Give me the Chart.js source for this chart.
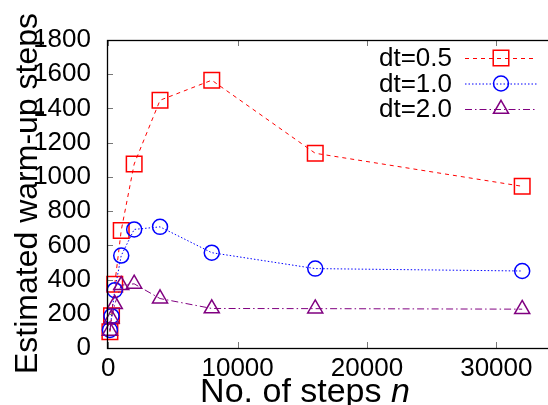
<!DOCTYPE html>
<html>
<head>
<meta charset="utf-8">
<script src="https://cdn.jsdelivr.net/npm/chart.js@4"></script>
<style>
html,body{margin:0;padding:0;overflow:hidden;background:#fff;}
#wrap{width:562px;height:405px;}
</style>
</head>
<body>
<div id="wrap"><canvas id="c" width="562" height="405" style="width:562px;height:405px"></canvas></div>
<script>
// ---- data ----
const steps = [125, 250, 500, 1000, 2000, 4000, 8000, 16000, 32000];
const dt05 = [95, 188, 373, 687, 1075, 1448, 1565, 1138, 945];
const dt10 = [105, 186, 338, 540, 693, 708, 557, 464, 450];
const dt20 = [100, 172, 256, 367, 375, 289, 231, 230, 227];
const seriesLabels = ['dt=0.5', 'dt=1.0', 'dt=2.0'];
const xTicks = [0, 10000, 20000, 30000];
const yTicks = [0, 200, 400, 600, 800, 1000, 1200, 1400, 1600, 1800];
const xTitle = 'No. of steps ';
const xTitleItalic = 'n';
const yTitle = 'Estimated warm-up steps';

const FONT = '"Liberation Sans", Arial, Helvetica, sans-serif';

function pts(ys){ return steps.map((x,i)=>({x:x, y:ys[i]})); }

const styles = [
  {color:'#ff0000', dash:[4,4], shape:'rect', r:11, order:2},
  {color:'#0000ff', dash:[1.5,2], shape:'circle', r:7.5, order:1},
  {color:'#800080', dash:[7,3,1.5,3], shape:'triangle', r:8.7, order:0}
];
const allSeries = [dt05, dt10, dt20];

const datasets = allSeries.map((s,i)=>({
  label: seriesLabels[i],
  data: pts(s),
  borderColor: styles[i].color,
  backgroundColor: 'rgba(0,0,0,0)',
  borderWidth: 1,
  borderDash: styles[i].dash,
  pointStyle: styles[i].shape,
  pointRadius: styles[i].r,
  pointBorderWidth: 1.5,
  pointBorderColor: styles[i].color,
  pointBackgroundColor: 'rgba(0,0,0,0)',
  tension: 0,
  clip: false,
  order: styles[i].order
}));

function drawMarker(ctx, shape, r, x, y){
  ctx.beginPath();
  if(shape==='rect'){
    const s = Math.SQRT1_2*r;
    ctx.rect(x-s, y-s, 2*s, 2*s);
  } else if(shape==='circle'){
    ctx.arc(x, y, r, 0, Math.PI*2);
  } else {
    const a = 2*Math.PI/3;
    ctx.moveTo(x, y-r);
    ctx.lineTo(x+Math.sin(a)*r, y-Math.cos(a)*r);
    ctx.lineTo(x+Math.sin(2*a)*r, y-Math.cos(2*a)*r);
    ctx.closePath();
  }
  ctx.stroke();
}

const framePlugin = {
  id:'frame',
  afterDraw(chart){
    const ctx = chart.ctx, a = chart.chartArea;
    const xs = chart.scales.x, ys = chart.scales.y;
    ctx.save();
    // ticks (inward)
    ctx.strokeStyle = '#777';
    ctx.lineWidth = 1;
    ctx.setLineDash([]);
    ctx.beginPath();
    xTicks.forEach(v=>{
      const p = Math.round(xs.getPixelForValue(v))+0.5;
      ctx.moveTo(p, a.bottom); ctx.lineTo(p, a.bottom-6);
      ctx.moveTo(p, a.top); ctx.lineTo(p, a.top+6);
    });
    yTicks.forEach(v=>{
      const p = Math.round(ys.getPixelForValue(v))+0.5;
      ctx.moveTo(a.left, p); ctx.lineTo(a.left+6, p);
      ctx.moveTo(a.right, p); ctx.lineTo(a.right-6, p);
    });
    ctx.stroke();
    // frame
    ctx.strokeStyle = '#000';
    ctx.lineWidth = 1.3;
    ctx.strokeRect(Math.round(a.left)+0.5, Math.round(a.top)+0.5, a.right-a.left, a.bottom-a.top);
    // legend
    ctx.font = '26px ' + FONT;
    ctx.textAlign = 'right';
    ctx.textBaseline = 'middle';
    chart.data.datasets.forEach((d,i)=>{
      const y = 58 + i*25.5;
      ctx.fillStyle = '#000';
      ctx.fillText(d.label, 452, y+1);
      ctx.strokeStyle = d.borderColor;
      ctx.lineWidth = 1;
      ctx.setLineDash(d.borderDash);
      ctx.beginPath();
      ctx.moveTo(465, y+0.5); ctx.lineTo(537, y+0.5);
      ctx.stroke();
      ctx.setLineDash([]);
      ctx.lineWidth = 1.5;
      drawMarker(ctx, d.pointStyle, d.pointRadius, 501, y);
    });
    // axis titles
    ctx.fillStyle = '#000';
    ctx.font = '34px ' + FONT;
    const w1 = ctx.measureText(xTitle).width;
    ctx.font = 'italic 34px ' + FONT;
    const w2 = ctx.measureText(xTitleItalic).width;
    const startX = 305 - (w1+w2)/2;
    ctx.textAlign = 'left';
    ctx.textBaseline = 'alphabetic';
    ctx.font = '34px ' + FONT;
    ctx.fillText(xTitle, startX, 402);
    ctx.font = 'italic 34px ' + FONT;
    ctx.fillText(xTitleItalic, startX + w1, 402);
    ctx.translate(37, 193.5);
    ctx.rotate(-Math.PI/2);
    ctx.font = '32px ' + FONT;
    ctx.textAlign = 'center';
    ctx.fillText(yTitle, 0, 0);
    ctx.restore();
  }
};

new Chart(document.getElementById('c'), {
  type:'line',
  data:{datasets:datasets},
  options:{
    responsive:false,
    devicePixelRatio:1,
    animation:false,
    layout:{autoPadding:false, padding:{left:0, top:40, right:1, bottom:0}},
    plugins:{legend:{display:false}, tooltip:{enabled:false}},
    scales:{
      x:{
        type:'linear', min:-100, max:35000,
        grid:{display:false}, border:{display:false},
        afterBuildTicks(s){ s.ticks = xTicks.map(v=>({value:v})); },
        afterFit(s){ s.height = 57; },
        ticks:{font:{family:FONT, size:26, lineHeight:1}, color:'#000', padding:0, maxRotation:0, autoSkip:false,
          callback:(v)=>String(v)}
      },
      y:{
        type:'linear', min:0, max:1800,
        grid:{display:false}, border:{display:false},
        afterBuildTicks(s){ s.ticks = yTicks.map(v=>({value:v})); },
        afterFit(s){ s.width = 107; },
        ticks:{font:{family:FONT, size:26, lineHeight:1}, color:'#000', padding:8, autoSkip:false,
          callback:(v)=>String(v)}
      }
    }
  },
  plugins:[framePlugin]
});
</script>
</body>
</html>
